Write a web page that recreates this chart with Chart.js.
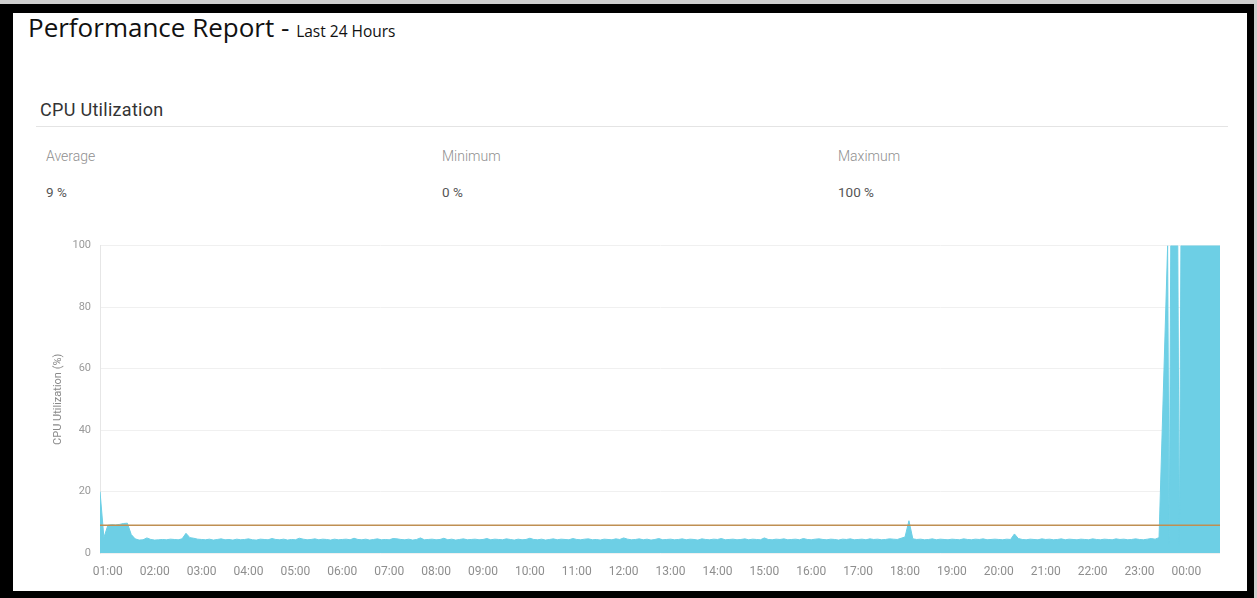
<!DOCTYPE html>
<html>
<head>
<meta charset="utf-8">
<script src="https://cdn.jsdelivr.net/npm/chart.js@4/dist/chart.umd.min.js"></script>
<style>
  body { margin: 0; width: 1257px; height: 598px; background: #cfcfcf; position: relative; overflow: hidden; }
  #frame { position: absolute; left: 0; top: 4px; width: 1234px; height: 578px; background: #fff;
           border-style: solid; border-color: #000; border-width: 9px 7px 7px 13px; }
  .abs { position: absolute; white-space: nowrap; }
  #title { left: 28px; top: 9px; font-family: "Open Sans", sans-serif; font-size: 26px; color: #111; }
  #title small { font-size: 15.5px; }
  #section { left: 40px; top: 99px; font-family: Roboto, sans-serif; font-size: 18px; letter-spacing: 0.3px; color: #333; }
  #sep { left: 36px; top: 126px; width: 1192px; height: 1px; background: #e4e4e4; }
  .lbl { font-family: Roboto, sans-serif; font-weight: 300; font-size: 14px; color: #8f8f8f; top: 148px; }
  .val { font-family: Roboto, sans-serif; font-size: 13.5px; color: #555; top: 184px; }
  #chartBox { position: absolute; left: 30px; top: 230px; width: 1200px; height: 360px; }
</style>
</head>
<body>
<div id="frame"></div>
<div class="abs" id="title">Performance Report - <small>Last 24 Hours</small></div>
<div class="abs" id="section">CPU Utilization</div>
<div class="abs" id="sep"></div>
<div class="abs lbl" style="left:46px">Average</div>
<div class="abs lbl" style="left:442px">Minimum</div>
<div class="abs lbl" style="left:838px">Maximum</div>
<div class="abs val" style="left:46px">9 %</div>
<div class="abs val" style="left:442px">0 %</div>
<div class="abs val" style="left:838px">100 %</div>
<div id="chartBox"><canvas id="cpu-chart"></canvas></div>
<script>
// sample times (5 min steps, then the burst at the end of the day)
const times = [
  '00:50', '00:55',
  '01:00', '01:05', '01:10', '01:15', '01:20', '01:25', '01:30', '01:35', '01:40', '01:45', '01:50', '01:55',
  '02:00', '02:05', '02:10', '02:15', '02:20', '02:25', '02:30', '02:35', '02:40', '02:45', '02:50', '02:55',
  '03:00', '03:05', '03:10', '03:15', '03:20', '03:25', '03:30', '03:35', '03:40', '03:45', '03:50', '03:55',
  '04:00', '04:05', '04:10', '04:15', '04:20', '04:25', '04:30', '04:35', '04:40', '04:45', '04:50', '04:55',
  '05:00', '05:05', '05:10', '05:15', '05:20', '05:25', '05:30', '05:35', '05:40', '05:45', '05:50', '05:55',
  '06:00', '06:05', '06:10', '06:15', '06:20', '06:25', '06:30', '06:35', '06:40', '06:45', '06:50', '06:55',
  '07:00', '07:05', '07:10', '07:15', '07:20', '07:25', '07:30', '07:35', '07:40', '07:45', '07:50', '07:55',
  '08:00', '08:05', '08:10', '08:15', '08:20', '08:25', '08:30', '08:35', '08:40', '08:45', '08:50', '08:55',
  '09:00', '09:05', '09:10', '09:15', '09:20', '09:25', '09:30', '09:35', '09:40', '09:45', '09:50', '09:55',
  '10:00', '10:05', '10:10', '10:15', '10:20', '10:25', '10:30', '10:35', '10:40', '10:45', '10:50', '10:55',
  '11:00', '11:05', '11:10', '11:15', '11:20', '11:25', '11:30', '11:35', '11:40', '11:45', '11:50', '11:55',
  '12:00', '12:05', '12:10', '12:15', '12:20', '12:25', '12:30', '12:35', '12:40', '12:45', '12:50', '12:55',
  '13:00', '13:05', '13:10', '13:15', '13:20', '13:25', '13:30', '13:35', '13:40', '13:45', '13:50', '13:55',
  '14:00', '14:05', '14:10', '14:15', '14:20', '14:25', '14:30', '14:35', '14:40', '14:45', '14:50', '14:55',
  '15:00', '15:05', '15:10', '15:15', '15:20', '15:25', '15:30', '15:35', '15:40', '15:45', '15:50', '15:55',
  '16:00', '16:05', '16:10', '16:15', '16:20', '16:25', '16:30', '16:35', '16:40', '16:45', '16:50', '16:55',
  '17:00', '17:05', '17:10', '17:15', '17:20', '17:25', '17:30', '17:35', '17:40', '17:45', '17:50', '17:55',
  '18:00', '18:05', '18:10', '18:15', '18:20', '18:25', '18:30', '18:35', '18:40', '18:45', '18:50', '18:55',
  '19:00', '19:05', '19:10', '19:15', '19:20', '19:25', '19:30', '19:35', '19:40', '19:45', '19:50', '19:55',
  '20:00', '20:05', '20:10', '20:15', '20:20', '20:25', '20:30', '20:35', '20:40', '20:45', '20:50', '20:55',
  '21:00', '21:05', '21:10', '21:15', '21:20', '21:25', '21:30', '21:35', '21:40', '21:45', '21:50', '21:55',
  '22:00', '22:05', '22:10', '22:15', '22:20', '22:25', '22:30', '22:35', '22:40', '22:45', '22:50', '22:55',
  '23:00', '23:05', '23:10', '23:15', '23:20', '23:25',
  '23:36', '23:38', '23:40', '23:49', '23:51', '23:53', '00:43'
];

// CPU utilization (%)
const cpu = [
  20, 5,
  9, 9.2, 9.1, 9.3, 9.6, 9.7, 6.0, 4.6, 4.2, 4.3, 4.9, 4.4,
  4.2, 4.3, 4.4, 4.3, 4.5, 4.4, 4.3, 4.6, 6.4, 5.0, 4.8, 4.5,
  4.4, 4.3, 4.5, 4.2, 4.4, 4.6, 4.3, 4.4, 4.2, 4.5, 4.3, 4.4,
  4.6, 4.3, 4.2, 4.5, 4.4, 4.3, 4.7, 4.4, 4.3, 4.5, 4.2, 4.4,
  4.3, 4.8, 4.5, 4.3, 4.4, 4.6, 4.3, 4.5, 4.4, 4.2, 4.5, 4.3,
  4.4, 4.5, 4.3, 4.8, 4.4, 4.3, 4.5, 4.2, 4.4, 4.6, 4.3, 4.4,
  4.3, 4.7, 4.6, 4.4, 4.3, 4.5, 4.2, 4.4, 4.9, 4.3, 4.4, 4.5,
  4.3, 4.4, 4.8, 4.3, 4.5, 4.2, 4.4, 4.6, 4.3, 4.4, 4.5, 4.3,
  4.4, 4.7, 4.3, 4.5, 4.4, 4.3, 4.6, 4.4, 4.2, 4.5, 4.3, 4.4,
  4.8, 4.4, 4.3, 4.5, 4.2, 4.4, 4.6, 4.3, 4.5, 4.4, 4.3, 4.7,
  4.4, 4.3, 4.5, 4.6, 4.3, 4.4, 4.2, 4.5, 4.4, 4.3, 4.6, 4.4,
  4.9, 4.5, 4.3, 4.4, 4.6, 4.3, 4.5, 4.2, 4.4, 4.7, 4.3, 4.4,
  4.5, 4.3, 4.4, 4.6, 4.3, 4.5, 4.4, 4.2, 4.6, 4.4, 4.3, 4.5,
  4.4, 4.7, 4.3, 4.4, 4.5, 4.3, 4.4, 4.6, 4.3, 4.5, 4.4, 4.3,
  4.9, 4.4, 4.3, 4.5, 4.4, 4.6, 4.3, 4.4, 4.5, 4.3, 4.7, 4.4,
  4.3, 4.5, 4.6, 4.4, 4.3, 4.5, 4.4, 4.2, 4.5, 4.4, 4.6, 4.3,
  4.4, 4.5, 4.3, 4.6, 4.4, 4.5, 4.3, 4.4, 4.6, 4.5, 4.4, 4.8,
  5.2, 10.5, 4.6, 4.4, 4.5, 4.3, 4.4, 4.6, 4.3, 4.5, 4.4, 4.3,
  4.5, 4.4, 4.3, 4.6, 4.4, 4.3, 4.5, 4.4, 4.6, 4.3, 4.4, 4.5,
  4.4, 4.3, 4.5, 4.4, 6.2, 4.7, 4.4, 4.3, 4.5, 4.4, 4.3, 4.6,
  4.4, 4.5, 4.3, 4.4, 4.6, 4.3, 4.5, 4.4, 4.3, 4.5, 4.4, 4.3,
  4.6, 4.4, 4.3, 4.5, 4.4, 4.3, 4.6, 4.4, 4.5, 4.3, 4.4, 4.6,
  4.4, 4.3, 4.5, 4.7, 4.5, 5.0,
  100, 2, 100, 100, 2, 100, 100
];

const hourLabels = ['01:00', '02:00', '03:00', '04:00', '05:00', '06:00', '07:00', '08:00', '09:00', '10:00',
  '11:00', '12:00', '13:00', '14:00', '15:00', '16:00', '17:00', '18:00', '19:00', '20:00',
  '21:00', '22:00', '23:00', '00:00'];
const yTicks = [0, 20, 40, 60, 80, 100];
const average = 9;

// "HH:MM" -> minutes, rolling over past midnight
function toMinutes(list, start) {
  let prev = start;
  return list.map(t => {
    const [h, m] = t.split(':').map(Number);
    let v = h * 60 + m;
    while (v < prev) v += 1440;
    prev = v;
    return v;
  });
}

const mins = toMinutes(times, 0);
const hourMins = toMinutes(hourLabels, mins[0]);
const xMin = mins[0];
const xMax = mins[mins.length - 1];

new Chart(document.querySelector('#cpu-chart').getContext('2d'), {
  type: 'line',
  data: {
    datasets: [
      {
        label: 'Average',
        data: [{ x: xMin, y: average }, { x: xMax, y: average }],
        borderColor: '#bf8f52',
        borderWidth: 1.5,
        pointRadius: 0,
        fill: false,
        order: 0
      },
      {
        label: 'CPU Utilization',
        data: mins.map((m, i) => ({ x: m, y: cpu[i] })),
        borderColor: '#6dcfe5',
        backgroundColor: '#6dcfe5',
        borderWidth: 1,
        pointRadius: 0,
        tension: 0,
        fill: 'origin',
        order: 1
      }
    ]
  },
  options: {
    responsive: true,
    maintainAspectRatio: false,
    animation: false,
    layout: { padding: { top: 14, right: 10, bottom: 0, left: 0 } },
    plugins: { legend: { display: false }, tooltip: { enabled: false } },
    scales: {
      x: {
        type: 'linear',
        min: xMin,
        max: xMax,
        grid: { display: false, drawTicks: false },
        border: { display: false },
        afterBuildTicks: scale => { scale.ticks = hourMins.map(v => ({ value: v })); },
        afterFit: scale => { scale.height = 37; },
        ticks: {
          autoSkip: false,
          maxRotation: 0,
          padding: 12,
          color: '#8e8e8e',
          font: { family: 'Roboto', size: 12 },
          callback: (v) => hourLabels[hourMins.indexOf(v)]
        }
      },
      y: {
        min: 0,
        max: 100,
        afterBuildTicks: scale => { scale.ticks = yTicks.map(v => ({ value: v })); },
        afterFit: scale => { scale.width = 70; },
        grid: { color: '#f0f0f0', drawTicks: false },
        border: { color: '#e6e6e6' },
        ticks: { padding: 9, color: '#9a9a9a', font: { family: 'Roboto', size: 11 } },
        title: {
          display: true,
          text: 'CPU Utilization (%)',
          color: '#8a8a8a',
          font: { family: 'Roboto', size: 11 },
          padding: { top: 22, bottom: 0 }
        }
      }
    }
  }
});
</script>
</body>
</html>
